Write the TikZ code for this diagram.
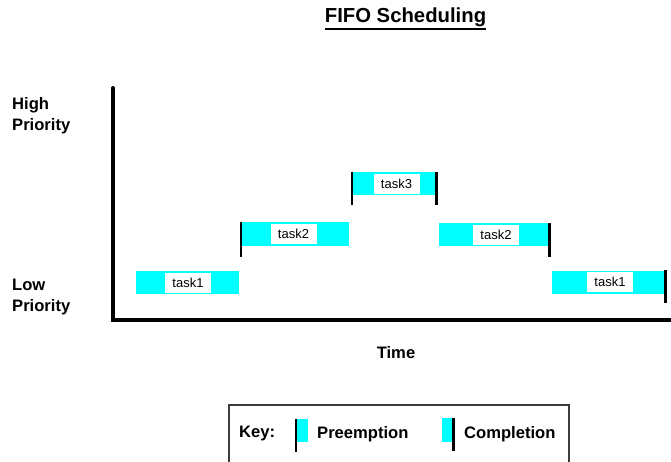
\documentclass[tikz,border=0pt]{standalone}
\usepackage{fontspec}
\setmainfont{Liberation Sans}
\usepackage{tikz}
\usetikzlibrary{positioning}
\definecolor{barcyan}{RGB}{0,255,255}
\definecolor{keygray}{RGB}{60,60,60}

\begin{document}
\begin{tikzpicture}[x=1pt, y=-1pt,
    bar/.style={fill=barcyan, draw=none, minimum height=23pt, inner sep=0pt},
    tasklbl/.style={fill=white, minimum width=46pt, minimum height=20pt, inner sep=0pt,
        font=\fontsize{13}{15}\selectfont},
    edgeline/.style={line width=2.6pt, black},
    axislbl/.style={font=\fontsize{16.6}{21}\selectfont\bfseries, align=left, anchor=west, inner sep=0pt}]
    \useasboundingbox (0,0) rectangle (671,461);
    \clip (0,0) rectangle (671,461);

    % title and axes
    \node[font=\fontsize{20.3}{24}\selectfont\bfseries, inner sep=0pt] (title) at (405.5,17.5) {FIFO Scheduling};
    \draw[line width=1.8pt] ([yshift=-2pt]title.south west) -- ([yshift=-2pt]title.south east);
    \coordinate (top) at (113,88);
    \coordinate (orig) at (113,320);
    \coordinate (right) at (672,320);
    \draw[line width=4pt, line cap=round] (top) -- (orig) -- (right);
    \node[axislbl] (high) at (12,115.5) {High\\Priority};
    \node[axislbl] (low) at (12,297.5) {Low\\Priority};
    \node[axislbl, anchor=center] (time) at (396,353) {Time};

    % task bars
    \node[bar, minimum width=103pt] (t1a) at (187.5,282.5) {};
    \node[tasklbl] (l1a) at (188,282.5) {task1};
    \node[bar, minimum width=108pt, minimum height=24pt] (t2a) at (295,234) {};
    \node[tasklbl] (l2a) at (293.5,234) {task2};
    \node[bar, minimum width=84pt] (t3) at (394,183.5) {};
    \node[tasklbl] (l3) at (396.5,183.5) {task3};
    \node[bar, minimum width=110pt] (t2b) at (494,234.5) {};
    \node[tasklbl] (l2b) at (496,234.5) {task2};
    \node[bar, minimum width=113pt] (t1b) at (608.5,282) {};
    \node[tasklbl] (l1b) at (610,282) {task1};

    \draw[edgeline] (t2a.north west) -- ++(0,35);
    \draw[edgeline] (t3.north west) -- ++(0,33);
    \draw[edgeline] (t3.north east) -- ++(0,33);
    \draw[edgeline] (t2b.north east) -- ++(0,34);
    \draw[edgeline] (t1b.north east) -- ++(0,33);

    % key
    \draw[keygray, line width=1.3pt] (229,470) -- (229,405) -- (569,405) -- (569,470);
    \node[axislbl] (key) at (239,434) {Key:};
    \node[bar, minimum width=12pt, minimum height=23pt] (kp) at (302,430.5) {};
    \draw[edgeline] (kp.north west) -- ++(0,33);
    \node[axislbl] (kpt) at (317,434) {Preemption};
    \node[bar, minimum width=12pt, minimum height=24pt] (kc) at (447.5,430) {};
    \draw[edgeline] (kc.north east) -- ++(0,33);
    \node[axislbl] (kct) at (464,434) {Completion};
\end{tikzpicture}
\end{document}
